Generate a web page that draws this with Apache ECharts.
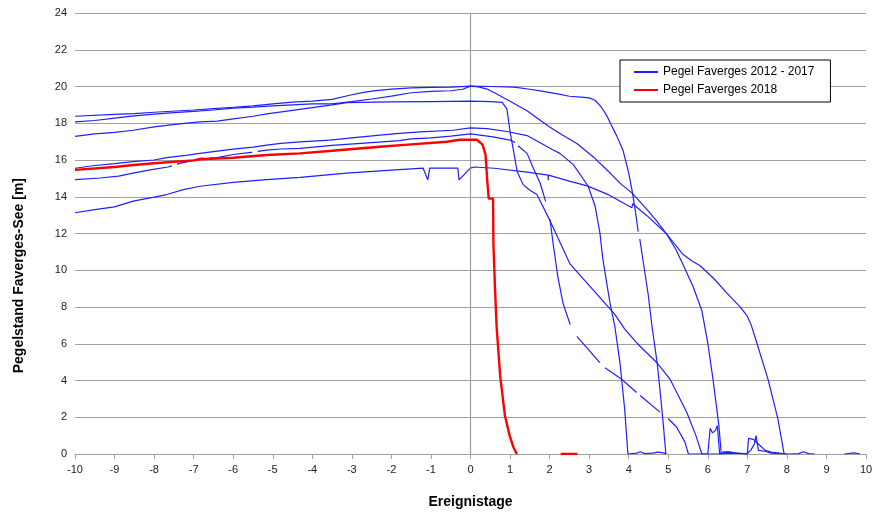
<!DOCTYPE html>
<html>
<head>
<meta charset="utf-8">
<script src="https://cdn.jsdelivr.net/npm/echarts@6/dist/echarts.min.js"></script>
<style>
  html, body { margin: 0; padding: 0; background: #fff; }
  #chart { width: 883px; height: 514px; }
</style>
</head>
<body>
<div id="chart"></div>
<script>
// Pegel Faverges: Wasserstand um den Ereignistag herum
var blueName = "Pegel Faverges 2012 - 2017";
var redName = "Pegel Faverges 2018";

// flacher Verlauf oben, Abfall bei ~4.9
var pegelA = [[-10,18.38],[-9,18.48],[-8.5,18.52],[-8,18.6],[-7,18.72],[-6.5,18.8],[-6,18.87],[-5.5,18.95],[-5,19.05],
  [-4.5,19.15],[-4,19.2],[-3.5,19.3],[-3,19.55],[-2.7,19.68],[-2.4,19.78],[-2,19.86],[-1.5,19.92],[-1,19.95],[-0.5,19.97],
  [0,20.02],[0.5,20.0],[1.1,19.97],[1.5,19.85],[1.8,19.75],[2.2,19.6],[2.5,19.47],[2.8,19.42],[3.0,19.38],[3.15,19.25],
  [3.3,18.9],[3.45,18.4],[3.55,17.95],[3.7,17.3],[3.86,16.5],[4.0,15.3],[4.08,14.4],[4.17,13.2],[4.24,12.1],[4.26,null],
  [4.28,11.7],[4.4,10.0],[4.49,8.72],[4.59,6.94],[4.72,4.95],[4.8,3.3],[4.87,1.72],[4.94,0]];

// gleichmaessiger Abfall, Null bei ~7.9
var pegelB = [[-10,18.07],[-9.5,18.15],[-9,18.28],[-8.5,18.4],[-8,18.5],[-7.5,18.58],[-7,18.65],[-6.5,18.72],[-6,18.82],
  [-5.5,18.88],[-5,18.95],[-4.5,19.0],[-4,19.05],[-3.5,19.05],[-3,19.18],[-2.5,19.32],[-2,19.48],[-1.5,19.66],[-1,19.74],
  [-0.5,19.77],[-0.2,19.85],[0,20.02],[0.2,19.98],[0.42,19.86],[0.7,19.55],[1.0,19.2],[1.43,18.68],[2.0,17.8],[2.26,17.44],
  [2.69,16.9],[3.1,16.18],[3.53,15.29],[3.8,14.7],[4.08,14.21],[4.46,13.31],[4.7,12.7],[4.95,12.0],[5.37,10.87],[5.6,10.5],
  [5.8,10.26],[6.15,9.55],[6.49,8.74],[6.81,8.02],[7.0,7.5],[7.1,7.0],[7.24,6.04],[7.52,4.09],[7.77,1.94],[7.93,0],
  [8.1,0],[8.3,0.02],[8.42,0.12],[8.55,0.02],[8.7,0],[8.8,null],[9.45,0],[9.7,0.06],[9.85,0]];

// 19.2 m Plateau, Abfall ab ~0.8
var pegelC = [[-10,17.29],[-9.5,17.42],[-9,17.5],[-8.53,17.62],[-8,17.8],[-7.68,17.88],[-7.3,17.98],[-6.84,18.07],
  [-6.4,18.12],[-6,18.24],[-5.5,18.38],[-5.15,18.51],[-4.5,18.7],[-4,18.85],[-3.5,19.0],[-3.13,19.12],[-2,19.16],
  [-1,19.18],[0,19.2],[0.5,19.18],[0.8,19.14],[0.92,18.78],[1.0,17.55],[1.18,15.38],[1.33,14.66],[1.5,14.35],[1.68,14.12],
  [2.01,12.7],[2.52,10.33],[3.1,8.93],[3.65,7.6],[3.9,6.8],[4.21,6.03],[4.72,4.95],[5.04,4.09],[5.25,3.2],[5.47,2.26],
  [5.7,1.0],[5.85,0],[6.3,0],[6.5,0.1],[6.7,0.05],[7.0,0],[7.03,0.85],[7.15,0.8],[7.3,0.5],[7.45,0.2],[7.6,0.1],
  [7.8,0.05],[8.0,0]];

// gestrichelter Verlauf, Null bei ~5.5
var pegelD = [[-10,14.93],[-9.36,15.02],[-8.9,15.12],[-8.53,15.29],[-8.1,15.46],[-7.65,15.62],[-7.55,15.68],[-7.5,null],
  [-7.42,15.76],[-7.35,15.82],[-7.0,15.98],[-6.84,16.09],[-6.75,16.1],[-6.7,null],[-6.6,16.11],[-6.41,16.13],[-6.0,16.3],
  [-5.6,16.4],[-5.52,16.42],[-5.45,null],[-5.38,16.47],[-5.15,16.54],[-4.8,16.6],
  [-4.31,16.63],[-3.5,16.8],[-2.5,16.95],[-1.8,17.05],[-1.5,17.15],[-1,17.2],[-0.5,17.3],[0,17.42],[0.57,17.26],
  [1.0,17.08],[1.13,16.95],[1.16,null],[1.2,16.78],[1.43,16.36],[1.6,15.5],[1.76,14.75],[1.9,13.75],[1.95,null],
  [2.01,12.77],[2.09,11.43],[2.21,9.63],[2.34,8.2],[2.52,7.05],[2.6,null],[2.69,6.4],[3.27,4.97],[3.33,null],[3.4,4.7],
  [3.82,4.07],[4.2,3.35],[4.25,null],[4.29,3.18],[4.79,2.28],[4.9,null],[5.0,1.92],[5.21,1.47],[5.42,0.66],[5.51,0],
  [5.9,0],[6.0,0],[6.06,1.4],[6.12,1.15],[6.2,1.3],[6.24,1.55],[6.3,0],[6.4,0.12],[6.55,0.12],[6.7,0.05],[7.0,0]];

// unterste Kurve mit Kerben vor dem Ereignis
var pegelE = [[-10,13.13],[-9.5,13.3],[-9,13.45],[-8.53,13.76],[-8,13.98],[-7.68,14.12],[-7.26,14.39],[-6.84,14.57],
  [-6,14.78],[-5.15,14.93],[-4.31,15.05],[-3.13,15.29],[-2,15.45],[-1.2,15.56],[-1.08,14.92],[-1.03,15.56],[-0.32,15.56],
  [-0.29,14.92],[0,15.56],[0.1,15.62],[0.6,15.55],[1.43,15.34],[1.96,15.18],[1.965,14.9],[1.97,15.18],[2.5,14.85],
  [2.95,14.59],[3.5,14.1],[4.08,13.4],[4.1,13.62],[4.46,12.97],[4.95,12.0],[5.2,11.1],[5.37,10.33],[5.63,9.1],[5.85,7.8],
  [6.0,6.03],[6.13,4.09],[6.28,1.56],[6.34,0],[6.5,0.05],[7.0,0.02],[7.1,0.25],[7.18,0.55],[7.22,1.0],[7.28,0.2],
  [7.45,0.15],[7.6,0.05],[7.9,0]];

// Abfall schon bei ~3.3, Null bei 4.0
var pegelF = [[-10,15.55],[-9.5,15.7],[-9,15.8],[-8.53,15.91],[-8,16.0],[-7.68,16.13],[-7.2,16.25],[-6.84,16.36],
  [-6.4,16.48],[-6,16.59],[-5.5,16.7],[-5.15,16.81],[-4.8,16.9],[-4.31,16.99],[-3.56,17.08],[-3,17.2],[-2.29,17.35],
  [-1.8,17.45],[-1.28,17.53],[-0.44,17.62],[0,17.75],[0.42,17.71],[0.92,17.55],[1.43,17.33],[2.09,16.54],[2.26,16.36],
  [2.6,15.75],[2.97,14.6],[3.15,13.5],[3.27,12.06],[3.35,10.55],[3.53,8.18],[3.65,6.94],[3.78,4.95],[3.9,2.4],[3.98,0],
  [4.2,0.05],[4.3,0.12],[4.4,0.02],[4.6,0.05],[4.75,0.1],[4.9,0.05],[4.95,0]];

// 2018
var pegel2018 = [[-10,15.46],[-9,15.62],[-8.53,15.73],[-8,15.82],[-7,15.98],[-6.84,16.04],[-6,16.12],[-5.15,16.27],
  [-4.31,16.36],[-3.5,16.5],[-2.29,16.72],[-1.5,16.85],[-0.6,16.99],[-0.27,17.1],[0.16,17.1],[0.3,16.85],[0.38,16.3],
  [0.42,15.0],[0.46,13.9],[0.57,13.9],[0.58,11.4],[0.62,9.0],[0.66,6.94],[0.75,4.25],[0.87,2.1],[0.99,1.0],[1.08,0.4],
  [1.17,0],[1.5,null],[2.28,0],[2.7,0]];

var blueCurves = [pegelA, pegelB, pegelC, pegelD, pegelE, pegelF];

var chart = echarts.init(document.getElementById("chart"));
var font = "Liberation Sans";

var series = [];
for (var i = 0; i < blueCurves.length; i++) {
  series.push({
    type: "line",
    name: blueName,
    data: blueCurves[i],
    symbol: "none",
    connectNulls: false,
    lineStyle: { color: "#1f1fff", width: 1.2 },
    itemStyle: { color: "#1f1fff" },
    z: 2
  });
}
// Ereignistag-Linie
series[0].markLine = {
  silent: true,
  symbol: "none",
  label: { show: false },
  lineStyle: { color: "#9a9a9a", type: [1, 2], width: 1 },
  data: [{ xAxis: 0 }]
};
series.push({
  type: "line",
  name: redName,
  data: pegel2018,
  symbol: "none",
  connectNulls: false,
  lineStyle: { color: "#ff0000", width: 2.4 },
  itemStyle: { color: "#ff0000" },
  z: 3
});

chart.setOption({
  animation: false,
  backgroundColor: "#fff",
  grid: { left: 75, right: 17, top: 13, bottom: 55 },
  graphic: [{
    // y-Achsentitel, etwas unter der Mitte wie im Original
    type: "text",
    left: 12,
    top: 178,
    rotation: Math.PI / 2,
    style: {
      text: "Pegelstand Faverges-See [m]",
      font: "bold 14px " + font,
      fill: "#000"
    }
  }],
  legend: {
    data: [blueName, redName],
    orient: "vertical",
    left: 620,
    top: 60,
    borderColor: "#000",
    borderWidth: 1,
    backgroundColor: "#fff",
    padding: [6, 16, 6, 14],
    itemGap: 6,
    icon: "rect",
    itemWidth: 24,
    itemHeight: 2,
    textStyle: { fontFamily: font, fontSize: 12, color: "#000" }
  },
  xAxis: {
    type: "value",
    min: -10,
    max: 10,
    interval: 1,
    name: "Ereignistage",
    nameLocation: "middle",
    nameGap: 41,
    nameTextStyle: { fontFamily: font, fontSize: 14, fontWeight: "bold", color: "#000" },
    axisLine: { onZero: false, lineStyle: { color: "#a0a0a0", width: 1.2 } },
    axisTick: { show: true, length: 5, lineStyle: { color: "#a0a0a0" } },
    axisLabel: { fontFamily: font, fontSize: 11, color: "#222", margin: 10 },
    splitLine: { show: false }
  },
  yAxis: {
    type: "value",
    min: 0,
    max: 24,
    interval: 2,
    axisLine: { show: true, lineStyle: { color: "#a0a0a0", width: 1.2 } },
    axisTick: { show: true, length: 4, lineStyle: { color: "#a0a0a0" } },
    axisLabel: { fontFamily: font, fontSize: 11, color: "#222", margin: 8 },
    splitLine: { show: true, lineStyle: { color: "#a0a0a0", width: 1.2 } }
  },
  series: series
});
</script>
</body>
</html>
